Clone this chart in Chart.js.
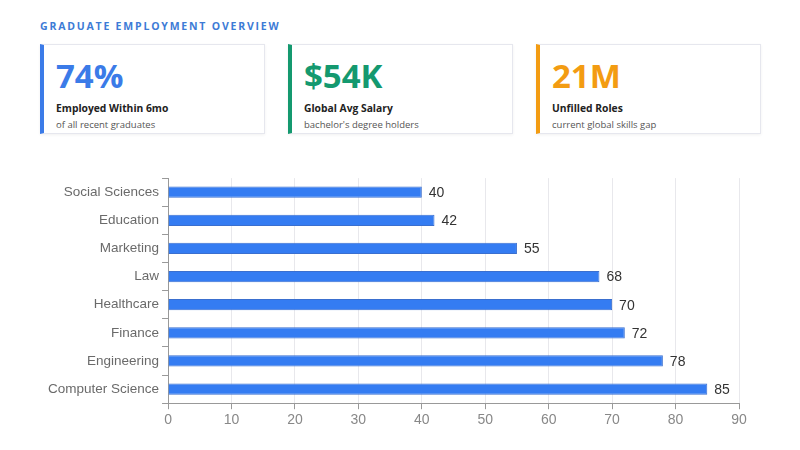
<!DOCTYPE html>
<html>
<head>
<meta charset="utf-8">
<script src="https://cdn.jsdelivr.net/npm/chart.js@4/dist/chart.umd.min.js"></script>
<style>
  html, body { margin: 0; padding: 0; background: #fff; }
  body { width: 800px; height: 450px; position: relative; overflow: hidden; font-family: "Open Sans", "Noto Sans", sans-serif; }
  .title { position: absolute; left: 40px; top: 19px; font-size: 10.5px; font-weight: 700; letter-spacing: 1.8px; color: #3d7bd6; }
  .card { position: absolute; top: 44px; width: 220px; height: 88px; border: 1px solid #e6e7ee; border-left: 4px solid; box-shadow: 0 1px 3px rgba(0,0,0,0.06); background: #fff; box-sizing: content-box; }
  .card .num { position: absolute; left: 12px; top: 9px; font-size: 33px; font-weight: 700; line-height: 44px; }
  .card .lbl { position: absolute; left: 12px; top: 56px; font-size: 10.3px; font-weight: 700; color: #222; }
  .card .sub { position: absolute; left: 12px; top: 73px; font-size: 9.5px; color: #555; }
  #wrap { position: absolute; left: 0; top: 167px; width: 800px; height: 265px; }
</style>
</head>
<body>
<div class="title">GRADUATE EMPLOYMENT OVERVIEW</div>
<div id="cards"></div>
<div id="wrap"><canvas id="chart"></canvas></div>
<script>
/* KPI cards */
const kpiValues = ["74%", "$54K", "21M"];
const kpiLabels = ["Employed Within 6mo", "Global Avg Salary", "Unfilled Roles"];
const kpiSubs = ["of all recent graduates", "bachelor's degree holders", "current global skills gap"];
const kpiColors = ["#3b7be8", "#14996f", "#f39c12"];

/* Chart data */
const fields = ["Social Sciences", "Education", "Marketing", "Law", "Healthcare", "Finance", "Engineering", "Computer Science"];
const rates = [40, 42, 55, 68, 70, 72, 78, 85];

const cardsEl = document.getElementById("cards");
kpiValues.forEach((v, i) => {
  const c = document.createElement("div");
  c.className = "card";
  c.style.left = (40 + i * 248) + "px";
  c.style.borderLeftColor = kpiColors[i];
  c.innerHTML = '<div class="num" style="color:' + kpiColors[i] + '">' + v + '</div>' +
    '<div class="lbl">' + kpiLabels[i] + '</div>' +
    '<div class="sub">' + kpiSubs[i] + '</div>';
  cardsEl.appendChild(c);
});

/* value labels at bar ends */
const barValues = {
  id: "barValues",
  afterDatasetsDraw(chart) {
    const ctx = chart.ctx;
    const meta = chart.getDatasetMeta(0);
    ctx.save();
    ctx.font = "14px 'Liberation Sans', Arial, sans-serif";
    ctx.fillStyle = "#333";
    ctx.textBaseline = "middle";
    meta.data.forEach((bar, i) => {
      ctx.fillText(chart.data.datasets[0].data[i], bar.x + 7, bar.y + 1);
    });
    ctx.restore();
  }
};

new Chart(document.getElementById("chart"), {
  type: "bar",
  data: {
    labels: fields,
    datasets: [{
      data: rates,
      backgroundColor: "#347cf2",
      borderColor: "#3a6fcf",
      borderWidth: 1,
      categoryPercentage: 0.8,
      barPercentage: 0.5
    }]
  },
  options: {
    indexAxis: "y",
    responsive: true,
    maintainAspectRatio: false,
    animation: false,
    layout: { padding: { left: 45, right: 61, top: 4, bottom: 0 } },
    plugins: { legend: { display: false }, tooltip: { enabled: false } },
    scales: {
      x: {
        min: 0, max: 90,
        ticks: { stepSize: 10, color: "#888", font: { family: "'Liberation Sans', Arial", size: 14 } },
        grid: { color: "#e8e8ec", tickColor: "#999", drawTicks: true, tickLength: 6 },
        border: { color: "#999" }
      },
      y: {
        ticks: { color: "#6a6a6a", font: { family: "'Liberation Sans', Arial", size: 13.5 } },
        grid: { drawOnChartArea: false, tickColor: "#999", tickLength: 6 },
        border: { color: "#999" }
      }
    }
  },
  plugins: [barValues]
});
</script>
</body>
</html>
